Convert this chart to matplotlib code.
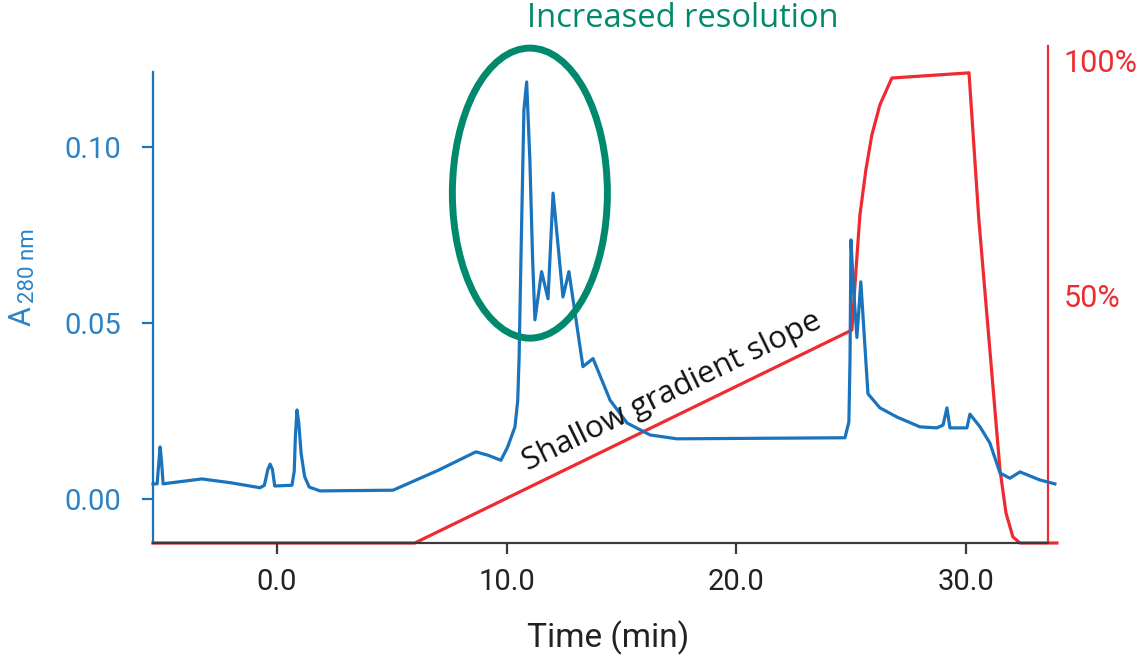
import matplotlib
matplotlib.use("Agg")
import matplotlib.pyplot as plt
from matplotlib.patches import Ellipse

# UV absorbance trace (time in min, absorbance at 280 nm)
time_uv = [-5.40, -5.22, -5.14, -5.09, -5.03, -4.96, -4.5, -3.27, -2.0, -0.74,
           -0.55, -0.40, -0.30, -0.20, -0.10, 0.65, 0.75, 0.80, 0.87, 0.95,
           1.05, 1.20, 1.40, 1.87, 5.05, 7.0, 8.66, 9.2, 9.75, 10.05,
           10.36, 10.48, 10.54, 10.62, 10.75, 10.87, 11.01, 11.13, 11.23, 11.52,
           11.80, 12.02, 12.45, 12.71, 13.32, 13.76, 14.50, 15.24, 16.24,
           17.41, 24.73, 24.90, 24.95, 24.99, 25.10, 25.25, 25.42, 25.73, 26.25,
           26.99, 27.99, 28.73, 29.00, 29.17, 29.30, 30.04, 30.17, 30.61, 31.04,
           31.48, 31.91, 32.35, 33.22, 33.87]
a280 = [0.0044, 0.0044, 0.0110, 0.0149, 0.0110, 0.0044, 0.0048, 0.0058, 0.0047, 0.0033,
        0.0040, 0.0085, 0.0100, 0.0085, 0.0038, 0.0040, 0.0080, 0.0180, 0.0254, 0.0215,
        0.0130, 0.0065, 0.0035, 0.0024, 0.0026, 0.0082, 0.0135, 0.0125, 0.0111, 0.0150,
        0.0206, 0.0280, 0.0400, 0.0680, 0.1106, 0.1186, 0.0964, 0.0680, 0.0510, 0.0647,
        0.0570, 0.0870, 0.0575, 0.0647, 0.0377, 0.0400, 0.0282, 0.0217, 0.0183,
        0.0172, 0.0175, 0.0220, 0.0400, 0.0737, 0.0600, 0.0460, 0.0618, 0.0300, 0.0260,
        0.0234, 0.0206, 0.0203, 0.0211, 0.0260, 0.0203, 0.0203, 0.0242, 0.0206, 0.0160,
        0.0075, 0.0060, 0.0078, 0.0055, 0.0044]

# Elution buffer gradient (% B)
time_grad = [-5.40, 6.0, 25.03, 25.21, 25.38, 25.64, 25.90, 26.25, 26.77, 30.13,
             30.56, 31.48, 31.74, 32.04, 32.35, 33.96]
conc_b = [0.0, 0.0, 45.2, 58.0, 69.6, 79.2, 86.6, 93.0, 98.7, 99.8,
          68.6, 15.5, 6.4, 1.3, 0.0, 0.0]

x_ticks = [0.0, 10.0, 20.0, 30.0]
x_ticklabels = ["0.0", "10.0", "20.0", "30.0"]
y_ticks = [0.00, 0.05, 0.10]
y_ticklabels = ["0.00", "0.05", "0.10"]
b_ticks = [50, 100]
b_ticklabels = ["50%", "100%"]

BLUE = "#1a74bd"
BLUE_TXT = "#2b83c6"
RED = "#ee2b30"
GREEN = "#00896c"
DARK = "#3a3a3a"

plt.rcParams["font.family"] = ["Roboto", "DejaVu Sans"]

W, H = 1137, 666
fig = plt.figure(figsize=(W / 100, H / 100), dpi=100)
left, right, top, bottom = 153, 1048, 46, 543
ax = fig.add_axes([left / W, 1 - bottom / H, (right - left) / W, (bottom - top) / H])
ax2 = ax.twinx()

ax.set_xlim(-5.40, 33.57)
ax.set_ylim(-0.0124, 0.1288)
ax2.set_ylim(0, 105.5)

# gradient first so the UV trace sits above it
ax2.plot(time_grad, conc_b, color=RED, lw=2.3, solid_joinstyle="round", clip_on=False, zorder=3)
ax.plot(time_uv, a280, color=BLUE, lw=2.3, solid_joinstyle="round", clip_on=False, zorder=3)
ax.set_zorder(ax2.get_zorder() + 1)
ax.patch.set_visible(False)

# spines
for s in ["top", "right"]:
    ax.spines[s].set_visible(False)
for s in ["top", "left", "bottom"]:
    ax2.spines[s].set_visible(False)
ax.spines["left"].set_color(BLUE)
ax.spines["left"].set_linewidth(1.6)
ax.spines["left"].set_bounds(-0.0124, 0.1213)
ax.spines["bottom"].set_color(DARK)
ax.spines["bottom"].set_linewidth(1.6)
ax2.spines["right"].set_color(RED)
ax2.spines["right"].set_linewidth(1.6)

ax.set_xticks(x_ticks)
ax.set_xticklabels(x_ticklabels)
ax.tick_params(axis="x", colors=DARK, length=8, width=1.6, pad=10, labelsize=21, labelcolor="#222222")
ax.set_yticks(y_ticks)
ax.set_yticklabels(y_ticklabels)
ax.tick_params(axis="y", colors=BLUE, length=8, width=1.6, pad=15, labelsize=21, labelcolor=BLUE_TXT)

ax2.set_yticks(b_ticks)
ax2.set_yticklabels(b_ticklabels)
ax2.tick_params(axis="y", length=0, pad=11, labelsize=22, labelcolor=RED)
for lab in ax2.get_yticklabels():
    lab.set_verticalalignment("baseline")

ax.set_xlabel("Time (min)", fontsize=24, color="#222222", labelpad=20)
ax.xaxis.set_label_coords(0.508, -0.155)

# y-axis title: "A" with the wavelength as a subscript
fig.text(22 / W, 1 - 316 / H, "A", rotation=90, ha="center", va="center",
         fontsize=22, color=BLUE_TXT)
fig.text(29 / W, 1 - 266 / H, "280 nm", rotation=90, ha="center", va="center",
         fontsize=16, color=BLUE_TXT)

# annotations
ax.add_patch(Ellipse((11.01, 0.0870), 6.75, 0.0824, fill=False, ec=GREEN, lw=5, clip_on=False, zorder=4))
ax.text(17.68, 0.1365, "Increased resolution", color=GREEN, fontsize=23.5,
        family=["Open Sans", "DejaVu Sans"], ha="center", va="center", clip_on=False)
ax.text(17.20, 0.0305, "Shallow gradient slope", color="#111111", fontsize=22.5,
        family=["Open Sans", "DejaVu Sans"], rotation=26, rotation_mode="anchor",
        ha="center", va="center", zorder=5)

fig.savefig("out.png", dpi=100)
